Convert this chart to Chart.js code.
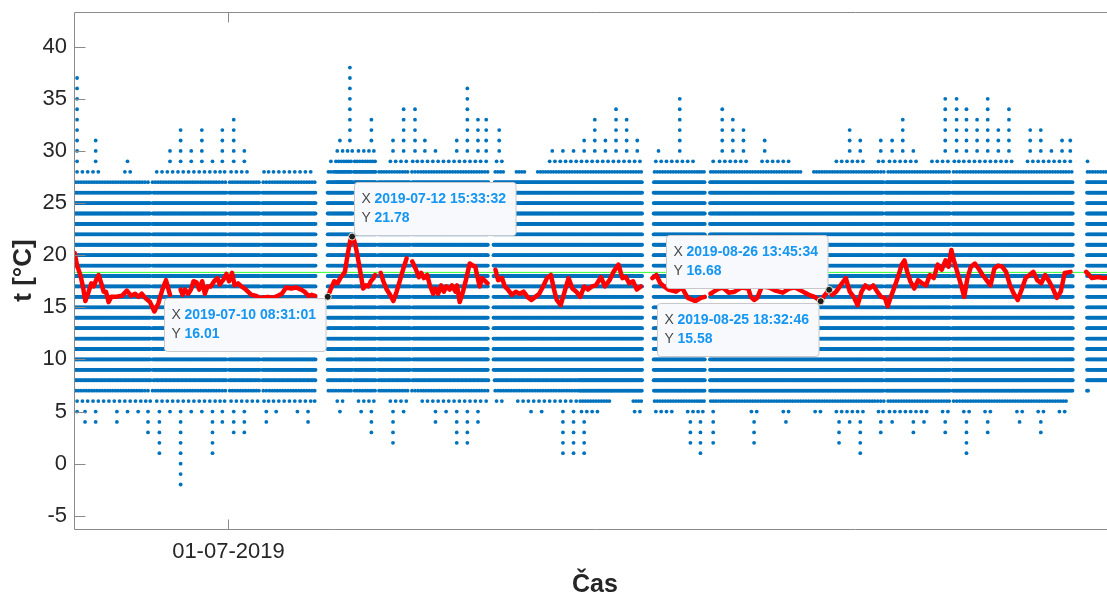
<!DOCTYPE html>
<html>
<head>
<meta charset="utf-8">
<title>t [°C]</title>
<script src="https://cdn.jsdelivr.net/npm/chart.js@4.4.0/dist/chart.umd.min.js"></script>
<style>
  html, body { margin: 0; padding: 0; overflow: hidden; background: #ffffff; }
  #wrap { position: relative; width: 1120px; height: 596px; }
</style>
</head>
<body>
<div id="wrap"><canvas id="chart" width="1120" height="596"></canvas></div>
<script>
// ---- time base: x values are days relative to 2019-07-01 00:00 ----
const ORIGIN = Date.UTC(2019, 6, 1);
const DAY = 86400000;

// ---- axis ticks ----
const xTickDays = [0];
const yTickValues = [-5, 0, 5, 10, 15, 20, 25, 30, 35, 40];

// ---- raw readings, summarised per day (first bin starts 2019-06-16) ----
const firstDay = -15;
// highest reading of the day
const dailyMax = [
  37, 28, 31, 27, 27, 29, 27, 27, 28, 30, 32, 30, 32, 29, 32,
  33, 30, 27, 28, 28, 28, 28, 28, 27, 29,
  31, 38, 30, 33, 28, 31, 34, 34, 31, 30,
  29, 31, 36, 33, 33, 32, 27, 28, 27, 28,
  30, 30, 30, 31, 33, 31, 34, 33, 31, null,
  30, 29, 35, 29, 28, 29, 34, 33, 32, 28,
  31, 29, 29, 28, 27, 28, 28, 29, 32, 31,
  28, 31, 31, 33, 30, 28, 29, 35, 35, 34,
  33, 35, 32, 34, 28, 32, 32, 30, 31, 31,
  29, 28, 28, 28
];
// lowest reading of the day
const dailyMin = [
  5, 4, 4, 6, 4, 5, 5, 3, 1, 5, -2, 5, 5, 1, 4,
  3, 3, 6, 4, 5, 6, 5, 4, 6, 7,
  5, 7, 5, 3, 7, 2, 5, 7, 6, 4,
  5, 2, 2, 4, 6, 6, 7, 6, 5, 5,
  6, 1, 1, 1, 5, 6, 7, 7, 5, null,
  5, 5, 6, 2, 1, 2, 6, 6, 6, 2,
  6, 6, 4, 6, 6, 5, 6, 2, 4, 1,
  6, 3, 4, 5, 3, 4, 6, 3, 6, 1,
  6, 3, 6, 6, 4, 6, 3, 6, 5, 7,
  7, 8, 8, 8
];
// top and bottom of the band every sensor sits in through the day
const bandTop = [
  25, 25, 25, 25, 25, 25, 25, 25, 25, 25, 25, 25, 25, 25, 25,
  25, 25, 25, 25, 25, 25, 25, 25, 25, 26,
  27, 27, 27, 27, 26, 26, 26, 26, 26, 26,
  26, 26, 26, 26, 26, 26, 26, 26, 26, 26,
  26, 26, 26, 26, 26, 26, 26, 26, 26, null,
  26, 26, 26, 26, 26, 26, 26, 26, 26, 26,
  26, 26, 26, 26, 26, 26, 26, 26, 26, 26,
  26, 26, 26, 26, 26, 26, 26, 26, 26, 26,
  26, 26, 26, 26, 26, 26, 26, 26, 26, 26,
  26, 26, 26, 26
];
const bandBottom = [
  9, 9, 9, 9, 9, 9, 9, 9, 9, 9, 9, 9, 9, 9, 9,
  9, 9, 9, 9, 9, 9, 9, 9, 9, 9,
  9, 9, 9, 9, 9, 9, 9, 9, 9, 9,
  9, 9, 9, 9, 9, 9, 9, 9, 9, 9,
  9, 9, 9, 8, 8, 8, 8, 8, 8, null,
  8, 8, 8, 8, 8, 8, 8, 8, 8, 8,
  8, 8, 8, 8, 8, 8, 8, 8, 8, 8,
  8, 8, 8, 8, 8, 8, 8, 8, 8, 8,
  8, 8, 8, 8, 8, 8, 8, 8, 8, 8,
  8, 8, 8, 8
];
// recording window and outages (days)
const readingsStart = -14.5;
const readingsEnd = 83.6;
const readingGaps = [
  [-7.32, -7.18], [-0.17, -0.03], [3.03, 3.17], [8.25, 9.3], [11.68, 11.8],
  [13.93, 14.07], [17.13, 17.27], [24.5, 24.95], [39.0, 40.0], [44.9, 45.3],
  [61.73, 61.87], [68.03, 68.17], [79.55, 80.8]
];

// ---- smoothed temperature (red) ----
const lineDays = [
  -14.47, -14.25, -13.94, -13.72, -13.47, -13.16, -12.91, -12.69, -12.47, -12.22,
  -11.97, -11.75, -11.53, -11.28, -11.03, -10.66, -10.03, -9.56, -9.16, -8.78,
  -8.47, -8.16, -7.84, -7.38, -6.97, -6.59, -6.22, -5.88, -5.5, -5.0,
  -4.5, -4.31, -4.09, -3.78, -3.53, -3.28, -3.0, -2.75, -2.47, -2.22,
  -1.97, -1.66, -1.34, -1.03, -0.81, -0.5, -0.19, 0.06, 0.34, 0.59,
  0.91, 1.22, 1.53, 1.84, 2.16, 2.63, 2.94, 3.72, 4.19, 4.66,
  5.03, 5.44, 5.91, 6.38, 6.84, 7.16, 7.53, 7.84, 8.16, 8.7,
  9.66, 9.97, 10.28, 10.53, 10.75, 10.97, 11.22, 11.47, 11.84, 12.03,
  12.25, 12.47, 12.69, 12.94, 13.19, 13.41, 13.66, 13.81, 14.05, 14.34,
  14.59, 14.91, 15.22, 15.53, 15.84, 16.16, 16.47, 16.78, 17.05, 17.31,
  17.63, 17.94, 18.16, 18.41, 18.72, 18.97, 19.28, 19.5, 19.75, 20.03,
  20.28, 20.53, 20.84, 21.06, 21.38, 21.53, 21.78, 22.09, 22.41, 22.72,
  23.03, 23.25, 23.41, 23.66, 23.88, 24.19, 24.4, 24.75, 25.15, 25.4,
  25.77, 26.03, 26.32, 26.69, 27.06, 27.43, 27.79, 28.16, 28.53, 28.9,
  29.27, 29.63, 30.0, 30.37, 30.66, 30.92, 31.29, 31.66, 32.03, 32.39,
  32.76, 33.13, 33.5, 33.86, 34.23, 34.6, 35.08, 35.45, 35.89, 36.26,
  36.73, 37.1, 37.43, 37.73, 38.1, 38.46, 38.83, 39.4, 39.93, 40.3,
  40.67, 41.04, 41.41, 42.14, 42.7, 43.25, 43.98, 44.5, 44.85, 45.1,
  45.4, 45.7, 46.2, 46.56, 47.1, 47.66, 48.3, 48.95, 49.2, 49.5,
  49.8, 50.24, 50.9, 51.52, 52.2, 52.81, 53.35, 53.91, 54.3, 54.65,
  55.2, 56.1, 56.86, 57.23, 57.78, 58.14, 58.51, 58.88, 59.25, 59.62,
  59.98, 60.35, 60.72, 61.09, 61.46, 61.82, 62.08, 62.38, 62.74, 63.11,
  63.41, 63.66, 63.92, 64.21, 64.58, 64.95, 65.32, 65.69, 66.05, 66.42,
  66.79, 67.16, 67.53, 67.82, 68.08, 68.34, 68.63, 69.0, 69.29, 69.59,
  69.92, 70.29, 70.65, 71.02, 71.39, 71.76, 72.12, 72.49, 72.86, 73.23,
  73.6, 73.96, 74.33, 74.7, 75.07, 75.44, 75.8, 76.17, 76.54, 76.91,
  77.28, 77.64, 78.01, 78.38, 78.75, 79.3, 80.0, 80.77, 81.32, 81.87,
  82.4, 83.2
];
const lineTemps = [
  20.2, 19.0, 18.1, 17.1, 15.6, 16.5, 17.3, 17.0, 17.6, 18.1,
  17.3, 16.5, 16.5, 15.5, 16.0, 16.0, 16.1, 16.6, 16.1, 16.3,
  16.0, 16.3, 15.9, 15.5, 14.6, 15.4, 16.7, 17.6, 16.2, null,
  16.7, 16.2, 16.7, 16.3, 16.7, 17.5, 17.4, 16.7, 17.5, 16.3,
  17.0, 17.0, 17.5, 17.8, 17.2, 17.6, 18.2, 17.5, 18.3, 17.1,
  17.3, 17.0, 16.8, 16.5, 16.2, 16.1, 15.9, 16.0, 15.9, 16.1,
  16.3, 16.9, 16.8, 16.9, 16.7, 16.5, 16.1, 16.2, 16.1, null,
  16.8, 17.5, 17.3, 17.8, 18.1, 18.4, 20.0, 21.4, 21.4, 20.6,
  19.4, 18.1, 16.8, 17.1, 17.0, 17.5, 17.8, 18.1, null, 18.3,
  17.5, 16.7, 16.2, 15.6, 16.5, 17.6, 18.7, 19.7, null, 19.4,
  18.7, 17.9, 18.3, 17.8, 18.1, 17.1, 16.3, 16.8, 16.3, 17.1,
  16.5, 17.0, 16.7, 17.1, 16.5, 17.1, 15.5, 16.5, 17.8, 19.2,
  19.0, 18.9, 18.1, 17.0, 17.8, 17.5, 17.3, null, 18.6, 17.6,
  17.8, 17.0, 16.7, 16.2, 16.5, 16.3, 16.5, 16.0, 15.7, 16.0,
  16.3, 17.0, 17.8, 18.1, 16.7, 15.7, 15.2, 16.5, 17.8, 16.8,
  16.5, 16.0, 17.0, 16.7, 17.0, 17.1, 17.9, 17.0, 17.6, 18.4,
  19.1, 17.8, 17.9, 17.3, 17.5, 16.7, 17.0, null, 17.8, 18.1,
  17.3, 17.0, 16.7, 16.5, 16.9, 15.9, 15.6, 15.9, 16.0, null,
  16.3, 16.5, 16.8, 16.9, 16.4, 16.5, 16.9, 16.8, 16.0, 15.7,
  15.9, 17.0, 16.9, 16.6, 16.4, 16.8, 16.9, 16.6, 16.4, 16.2,
  16.0, 16.1, 16.2, 16.5, 17.3, 17.8, 16.5, 16.0, 15.2, 16.5,
  17.1, 16.8, 17.1, 16.5, 16.0, 15.9, 15.1, 16.0, 17.0, 18.1,
  19.1, 19.5, 18.4, 17.5, 16.8, 17.6, 17.3, 17.1, 18.1, 17.8,
  19.1, 18.6, 19.5, 18.9, 20.5, 19.4, 18.4, 17.1, 16.0, 17.8,
  18.9, 19.2, 18.7, 18.1, 17.6, 17.1, 18.7, 19.0, 18.9, 18.4,
  17.1, 16.3, 15.7, 16.7, 17.8, 18.1, 18.4, 17.6, 17.3, 18.1,
  17.5, 16.8, 15.9, 16.5, 18.3, 18.4, null, 18.4, 17.8, 17.9,
  17.8, 17.9
];

// ---- reference level (green) ----
const meanTemp = 18.35;

// ---- marked points on the smoothed curve ----
const tipStamps = ['2019-07-10 08:31:01', '2019-07-12 15:33:32', '2019-08-25 18:32:46', '2019-08-26 13:45:34'];
const tipTemps = [16.01, 21.78, 15.58, 16.68];
const tipPlacement = ['below-left', 'above-right', 'below-left', 'above-left'];

// ---- helpers ----
function stampToDay(s) {
  const m = s.match(/(\d+)-(\d+)-(\d+) (\d+):(\d+):(\d+)/);
  const t = Date.UTC(+m[1], +m[2] - 1, +m[3], +m[4], +m[5], +m[6]);
  return (t - ORIGIN) / DAY;
}
function dayLabel(d) {
  const dt = new Date(ORIGIN + d * DAY);
  const p = n => String(n).padStart(2, '0');
  return p(dt.getUTCDate()) + '-' + p(dt.getUTCMonth() + 1) + '-' + dt.getUTCFullYear();
}
function coveredSpans(a, b) {
  let spans = [[Math.max(a, readingsStart), Math.min(b, readingsEnd)]];
  if (spans[0][0] >= spans[0][1]) return [];
  for (const [g0, g1] of readingGaps) {
    const next = [];
    for (const [s, e] of spans) {
      if (g1 <= s || g0 >= e) { next.push([s, e]); continue; }
      if (g0 > s) next.push([s, g0]);
      if (g1 < e) next.push([g1, e]);
    }
    spans = next;
  }
  return spans;
}
function spread(spans, n) {
  const total = spans.reduce((t, [s, e]) => t + (e - s), 0);
  const out = [];
  for (let j = 0; j < n; j++) {
    let pos = (j + 0.5) / n * total;
    for (const [s, e] of spans) {
      if (pos <= e - s) { out.push(s + pos); break; }
      pos -= (e - s);
    }
  }
  return out;
}

// readings per day for a level inside the band, then 1, 2, 3 steps outside it
const readsPerDay = [12, 8, 4, 2];

const readings = [];
dailyMax.forEach((hi, i) => {
  if (hi === null) return;
  const d = firstDay + i;
  const spans = coveredSpans(d, d + 1);
  if (!spans.length) return;
  const len = spans.reduce((t, [s, e]) => t + (e - s), 0);
  for (let v = dailyMin[i]; v <= hi; v++) {
    const k = v > bandTop[i] ? v - bandTop[i] : (v < bandBottom[i] ? bandBottom[i] - v : 0);
    const n = k < readsPerDay.length ? Math.max(1, Math.round(readsPerDay[k] * len)) : 1;
    for (const t of spread(spans, n)) readings.push({ x: t, y: v });
  }
});

const tipDays = tipStamps.map(stampToDay);
const smoothPts = lineDays.map((d, i) => ({ x: d, y: lineTemps[i] }))
  .concat(tipDays.map((d, i) => ({ x: d, y: tipTemps[i] })))
  .sort((a, b) => a.x - b.x);

// ---- layout ----
const FONT = "'Liberation Sans', Arial, Helvetica, sans-serif";
const AXIS_COLOR = '#8a8a8a';
const TEXT_COLOR = '#262626';
const X_MIN = -14.54, X_MAX = 83.58;
const Y_MIN = -6.27, Y_MAX = 43.33;

const framePlugin = {
  id: 'frame',
  afterDatasetsDraw(chart) {
    const { ctx, chartArea: a, scales: { x, y } } = chart;
    ctx.save();
    ctx.strokeStyle = AXIS_COLOR;
    ctx.lineWidth = 1;
    const L = Math.round(a.left) + 0.5, T = Math.round(a.top) + 0.5, B = Math.round(a.bottom) + 0.5, R = a.right;
    ctx.beginPath();
    ctx.moveTo(R, T); ctx.lineTo(L, T); ctx.lineTo(L, B); ctx.lineTo(R, B);
    for (const v of yTickValues) {
      const py = Math.round(y.getPixelForValue(v)) + 0.5;
      ctx.moveTo(L, py); ctx.lineTo(L + 11, py);
    }
    for (const d of xTickDays) {
      const px = Math.round(x.getPixelForValue(d)) + 0.5;
      ctx.moveTo(px, B); ctx.lineTo(px, B - 10);
      ctx.moveTo(px, T); ctx.lineTo(px, T + 10);
    }
    ctx.stroke();
    ctx.restore();
  }
};

const tipPlugin = {
  id: 'datatips',
  afterDraw(chart) {
    const { ctx, scales: { x, y } } = chart;
    ctx.save();
    tipDays.forEach((d, i) => {
      const px = x.getPixelForValue(d), py = y.getPixelForValue(tipTemps[i]);
      const xText = tipStamps[i], yText = tipTemps[i].toFixed(2);
      ctx.font = 'bold 14px ' + FONT;
      const w = 20 + Math.max(ctx.measureText(xText).width, ctx.measureText(yText).width) + 10;
      const h = 53;
      let left, top;
      const place = tipPlacement[i];
      if (place === 'below-left') { left = px - 2 - w; top = py + 1.5; }
      else if (place === 'above-right') { left = px + 1.5; top = py - 1.5 - h; }
      else { left = px - 1.5 - w; top = py - 1.5 - h; }
      left = Math.round(left) + 0.5; top = Math.round(top) + 0.5;
      ctx.beginPath();
      ctx.roundRect(left, top, w, h, 3);
      ctx.fillStyle = '#f8f9fd';
      ctx.fill();
      ctx.strokeStyle = '#c8c8cc';
      ctx.lineWidth = 1;
      ctx.stroke();
      ctx.textBaseline = 'middle';
      ctx.textAlign = 'left';
      ctx.font = '14px ' + FONT;
      ctx.fillStyle = '#4a4a4a';
      ctx.fillText('X', left + 7, top + 17);
      ctx.fillText('Y', left + 7, top + 36);
      ctx.font = 'bold 14px ' + FONT;
      ctx.fillStyle = '#1596f2';
      ctx.fillText(xText, left + 20, top + 17);
      ctx.fillText(yText, left + 20, top + 36);
      // marker on the curve
      ctx.beginPath();
      ctx.arc(px, py, 3.5, 0, Math.PI * 2);
      ctx.fillStyle = '#1e1e1e';
      ctx.fill();
      ctx.strokeStyle = '#e8e8d0';
      ctx.lineWidth = 1;
      ctx.stroke();
    });
    ctx.restore();
  }
};

new Chart(document.getElementById('chart'), {
  type: 'scatter',
  data: {
    datasets: [
      {
        label: 'klouzavý průměr',
        type: 'line',
        data: smoothPts,
        borderColor: '#ff0000',
        borderWidth: 4.5,
        pointRadius: 0,
        tension: 0,
        spanGaps: false,
        borderJoinStyle: 'round',
        borderCapStyle: 'round',
        order: 0
      },
      {
        label: 'průměr',
        type: 'line',
        data: [{ x: X_MIN, y: meanTemp }, { x: X_MAX, y: meanTemp }],
        borderColor: '#33ff33',
        borderWidth: 1,
        pointRadius: 0,
        order: 1
      },
      {
        label: 't',
        data: readings,
        backgroundColor: '#0072bd',
        borderWidth: 0,
        pointRadius: 1.9,
        order: 2
      }
    ]
  },
  options: {
    responsive: false,
    animation: false,
    events: [],
    layout: { padding: { top: 12, right: 0, left: 0, bottom: 0 } },
    plugins: { legend: { display: false }, tooltip: { enabled: false } },
    scales: {
      x: {
        type: 'linear',
        min: X_MIN,
        max: X_MAX,
        grid: { display: false, drawTicks: false },
        border: { display: false },
        afterBuildTicks: s => { s.ticks = xTickDays.map(v => ({ value: v })); },
        afterFit: s => { s.height = 67; s.paddingLeft = 0; s.paddingRight = 0; },
        ticks: {
          autoSkip: false,
          maxRotation: 0,
          padding: 10,
          color: TEXT_COLOR,
          font: { family: FONT, size: 22 },
          callback: v => dayLabel(v)
        },
        title: {
          display: true,
          text: 'Čas',
          color: TEXT_COLOR,
          font: { family: FONT, size: 25, weight: 'bold', lineHeight: 0.88 },
          padding: { top: 0, bottom: 0 }
        }
      },
      y: {
        type: 'linear',
        min: Y_MIN,
        max: Y_MAX,
        grid: { display: false, drawTicks: false },
        border: { display: false },
        afterBuildTicks: s => { s.ticks = yTickValues.map(v => ({ value: v })); },
        afterFit: s => { s.width = 74; s.paddingTop = 0; s.paddingBottom = 0; },
        ticks: {
          padding: 7,
          color: TEXT_COLOR,
          font: { family: FONT, size: 22 }
        },
        title: {
          display: true,
          text: 't [°C]',
          color: TEXT_COLOR,
          font: { family: FONT, size: 26, weight: 'bold' },
          padding: { top: 8, bottom: 0 }
        }
      }
    }
  },
  plugins: [framePlugin, tipPlugin]
});
</script>
</body>
</html>
